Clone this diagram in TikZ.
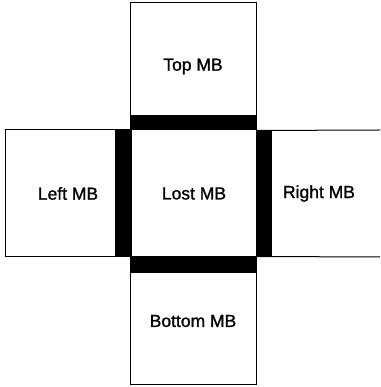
\documentclass[tikz,border=0pt]{standalone}
\usepackage{fontspec}
\setmainfont{Liberation Sans}
\newfontfamily\mbfont[FakeBold=1.2]{Liberation Sans}
\begin{document}
\begin{tikzpicture}[x=1pt,y=1pt,
  mbbox/.style={draw=black, line width=1pt, rectangle, inner sep=0pt,
    minimum width=126pt, minimum height=127pt, font=\mbfont\fontsize{17.5}{20}\selectfont},
  mbtext/.style={inner sep=0pt, font=\mbfont\fontsize{17.5}{20}\selectfont},
  bar/.style={fill=black, draw=none}]
\useasboundingbox (0,0) rectangle (380,387);
% boxes
\node[mbbox] (top) at (193,320.5) {Top MB};
\node[mbbox] (left) at (68,193.5) {Left MB};
\node[mbbox, minimum height=128pt] (bottom) at (193,66) {Bottom MB};
\node[mbtext] (lost) at (194,193.5) {Lost MB};
\node[mbtext] (right) at (319,193.5) {Right MB};
\coordinate (rtop) at (380,257);
\coordinate (rbot) at (380,130);
\draw[line width=1pt] (top.south east) -- (rtop);
\draw[line width=1pt] (left.south east) -- (bottom.north east) -- (rbot);
% bars
\fill[bar] (131,257) rectangle (256,272);
\fill[bar] (131,114) rectangle (256,130);
\fill[bar] (115,130) rectangle (131,257);
\fill[bar] (256,130) rectangle (272,257);
\end{tikzpicture}
\end{document}
